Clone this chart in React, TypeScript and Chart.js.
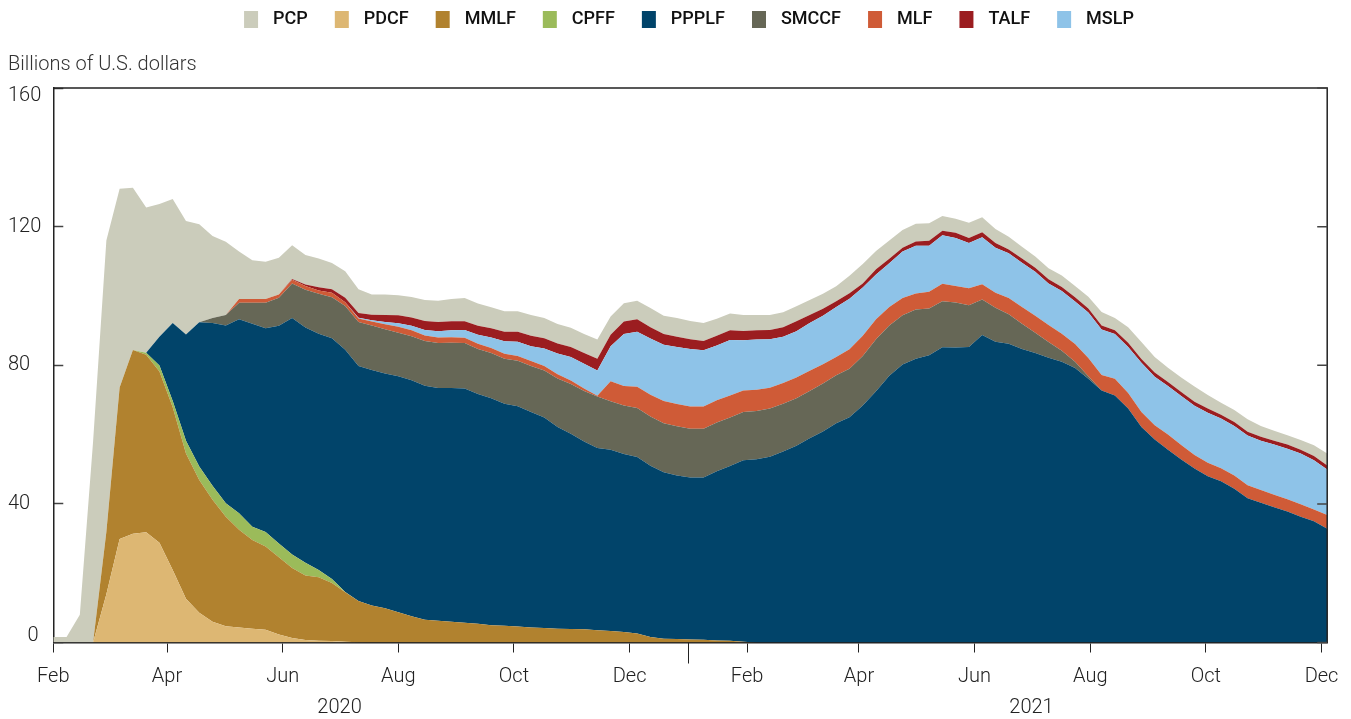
import React, { useEffect, useRef } from 'react';
import { Chart, registerables } from 'chart.js';

Chart.register(...registerables);

// Weekly observation dates
const weekDates = [
  '2020-02-01','2020-02-08','2020-02-15','2020-02-22','2020-02-29','2020-03-07','2020-03-14','2020-03-21','2020-03-28','2020-04-04',
  '2020-04-11','2020-04-18','2020-04-25','2020-05-02','2020-05-09','2020-05-16','2020-05-23','2020-05-30','2020-06-06','2020-06-13',
  '2020-06-20','2020-06-27','2020-07-04','2020-07-11','2020-07-18','2020-07-25','2020-08-01','2020-08-08','2020-08-15','2020-08-22',
  '2020-08-29','2020-09-05','2020-09-12','2020-09-19','2020-09-26','2020-10-03','2020-10-10','2020-10-17','2020-10-24','2020-10-31',
  '2020-11-07','2020-11-14','2020-11-21','2020-11-28','2020-12-05','2020-12-12','2020-12-19','2020-12-26','2021-01-02','2021-01-09',
  '2021-01-16','2021-01-23','2021-01-30','2021-02-06','2021-02-13','2021-02-20','2021-02-27','2021-03-06','2021-03-13','2021-03-20',
  '2021-03-27','2021-04-03','2021-04-10','2021-04-17','2021-04-24','2021-05-01','2021-05-08','2021-05-15','2021-05-22','2021-05-29',
  '2021-06-05','2021-06-12','2021-06-19','2021-06-26','2021-07-03','2021-07-10','2021-07-17','2021-07-24','2021-07-31','2021-08-07',
  '2021-08-14','2021-08-21','2021-08-28','2021-09-04','2021-09-11','2021-09-18','2021-09-25','2021-10-02','2021-10-09','2021-10-16',
  '2021-10-23','2021-10-30','2021-11-06','2021-11-13','2021-11-20','2021-11-27','2021-12-04'
];

// Billions of U.S. dollars, one value per week (10 per row)
const PDCF = [
  0, 0, 0, 0, 13.9, 29.9, 31.4, 31.8, 28.8, 20.9,
  12.6, 8.6, 6.0, 4.7, 4.3, 4.0, 3.7, 2.3, 1.3, 0.7,
  0.5, 0.4, 0.2, 0.1, 0, 0, 0, 0, 0, 0,
  0, 0, 0, 0, 0, 0, 0, 0, 0, 0,
  0, 0, 0, 0, 0, 0, 0, 0, 0, 0,
  0, 0, 0, 0, 0, 0, 0, 0, 0, 0,
  0, 0, 0, 0, 0, 0, 0, 0, 0, 0,
  0, 0, 0, 0, 0, 0, 0, 0, 0, 0,
  0, 0, 0, 0, 0, 0, 0, 0, 0, 0,
  0, 0, 0, 0, 0, 0, 0
];
const MMLF = [
  0, 0, 0, 0, 18.0, 43.7, 53.0, 51.2, 49.4, 47.0,
  41.9, 38.3, 35.2, 31.6, 28.2, 25.6, 24.0, 22.3, 20.2, 18.6,
  18.3, 16.8, 14.3, 11.9, 10.7, 9.9, 8.7, 7.6, 6.6, 6.3,
  6.0, 5.7, 5.4, 5.0, 4.8, 4.6, 4.3, 4.2, 4.0, 3.9,
  3.8, 3.5, 3.3, 3.0, 2.6, 1.6, 1.1, 1.0, 0.9, 0.8,
  0.6, 0.5, 0.2, 0, 0, 0, 0, 0, 0, 0,
  0, 0, 0, 0, 0, 0, 0, 0, 0, 0,
  0, 0, 0, 0, 0, 0, 0, 0, 0, 0,
  0, 0, 0, 0, 0, 0, 0, 0, 0, 0,
  0, 0, 0, 0, 0, 0, 0
];
const CPFF = [
  0, 0, 0, 0, 0, 0, 0, 0.6, 1.7, 1.8,
  3.7, 3.9, 4.0, 3.9, 4.8, 3.8, 4.2, 4.0, 3.9, 3.7,
  2.1, 1.1, 0.1, 0, 0, 0, 0, 0, 0, 0,
  0, 0, 0, 0, 0, 0, 0, 0, 0, 0,
  0, 0, 0, 0, 0, 0, 0, 0, 0, 0,
  0, 0, 0, 0, 0, 0, 0, 0, 0, 0,
  0, 0, 0, 0, 0, 0, 0, 0, 0, 0,
  0, 0, 0, 0, 0, 0, 0, 0, 0, 0,
  0, 0, 0, 0, 0, 0, 0, 0, 0, 0,
  0, 0, 0, 0, 0, 0, 0
];
const PPPLF = [
  0, 0, 0, 0, 0, 0, 0, 0, 8.3, 22.5,
  30.7, 41.6, 47.0, 51.3, 56.0, 58.6, 58.8, 62.8, 68.2, 67.9,
  68.2, 69.5, 69.9, 67.8, 67.9, 67.7, 68.1, 68.1, 67.5, 67.1,
  67.4, 67.6, 66.3, 65.5, 64.1, 63.6, 62.2, 60.7, 58.2, 56.3,
  54.2, 52.6, 52.3, 51.4, 50.9, 49.4, 48.0, 47.2, 46.7, 46.8,
  48.8, 50.4, 52.4, 52.9, 53.6, 55.1, 56.8, 58.9, 60.9, 63.3,
  65.0, 68.4, 72.5, 77.0, 80.2, 81.9, 82.9, 85.2, 85.1, 85.3,
  88.7, 86.8, 86.2, 84.7, 83.5, 82.2, 81.0, 79.2, 76.1, 72.7,
  71.3, 67.5, 62.2, 58.6, 55.6, 52.8, 50.2, 48.0, 46.5, 44.4,
  41.6, 40.3, 39.0, 37.8, 36.3, 35.0, 32.8
];
const SMCCF = [
  0, 0, 0, 0, 0, 0, 0, 0, 0, 0,
  0, 0, 1.4, 3.0, 4.7, 6.0, 7.3, 8.1, 10.0, 10.9,
  11.5, 11.8, 12.6, 12.7, 12.9, 12.8, 12.6, 12.7, 12.9, 13.0,
  13.1, 13.1, 13.0, 13.0, 13.0, 13.1, 13.3, 13.6, 14.0, 14.4,
  14.6, 14.9, 14.0, 14.0, 14.2, 14.2, 14.2, 14.2, 14.1, 14.1,
  14.1, 14.0, 13.9, 13.9, 13.9, 13.8, 13.7, 13.7, 13.8, 13.8,
  14.0, 14.3, 15.0, 14.5, 14.2, 14.2, 13.5, 13.3, 13.0, 12.0,
  10.3, 9.8, 8.5, 7.3, 5.9, 4.5, 3.2, 1.8, 0.7, 0,
  0, 0, 0, 0, 0, 0, 0, 0, 0, 0,
  0, 0, 0, 0, 0, 0, 0
];
const MLF = [
  0, 0, 0, 0, 0, 0, 0, 0, 0, 0,
  0, 0, 0, 0, 1.1, 1.1, 1.1, 0.9, 1.1, 1.1,
  1.0, 1.3, 1.1, 1.0, 1.1, 1.4, 1.7, 1.7, 1.6, 1.6,
  1.6, 1.5, 1.5, 1.5, 1.4, 1.4, 1.4, 1.3, 1.2, 1.0,
  0.7, 0.2, 5.8, 5.6, 6.1, 6.3, 6.4, 6.4, 6.4, 6.4,
  6.4, 6.4, 6.2, 6.1, 6.0, 6.0, 6.0, 5.8, 5.6, 5.3,
  5.6, 5.8, 5.8, 5.3, 5.0, 4.6, 4.8, 5.0, 4.8, 4.9,
  4.4, 4.3, 4.7, 4.8, 4.9, 4.9, 4.9, 5.1, 5.3, 4.5,
  4.8, 4.5, 4.3, 4.1, 4.4, 4.2, 3.9, 3.9, 3.8, 3.8,
  3.8, 3.7, 3.6, 3.5, 3.6, 3.4, 4.0
];
const MSLP = [
  0, 0, 0, 0, 0, 0, 0, 0, 0, 0,
  0, 0, 0, 0, 0, 0, 0, 0, 0, 0,
  0, 0, 0, 0.2, 0.4, 0.7, 1.0, 1.3, 1.6, 1.8,
  2.0, 2.3, 2.6, 3.0, 3.6, 4.1, 4.3, 5.0, 6.0, 6.8,
  7.1, 7.3, 10.1, 15.0, 15.9, 16.2, 16.2, 16.5, 16.6, 16.2,
  15.8, 16.0, 14.5, 14.5, 14.0, 13.3, 13.3, 13.8, 14.0, 14.4,
  14.6, 13.9, 12.9, 12.6, 13.4, 13.8, 13.3, 14.0, 13.8, 13.1,
  13.5, 13.0, 12.9, 12.8, 12.7, 12.0, 12.3, 12.3, 13.1, 13.1,
  12.9, 13.3, 14.2, 14.0, 14.0, 14.1, 14.2, 14.4, 14.3, 14.3,
  14.3, 14.2, 14.5, 14.6, 14.6, 14.2, 13.1
];
const TALF = [
  0, 0, 0, 0, 0, 0, 0, 0, 0, 0,
  0, 0, 0, 0, 0, 0, 0, 0, 0.2, 0.4,
  0.9, 1.0, 1.3, 1.4, 1.6, 2.0, 2.3, 2.4, 2.6, 2.7,
  2.6, 2.5, 2.6, 2.7, 2.8, 2.9, 3.0, 3.0, 2.9, 2.9,
  3.1, 3.4, 3.3, 3.6, 3.6, 3.3, 3.1, 2.9, 2.8, 2.7,
  2.8, 2.8, 2.7, 2.7, 2.7, 2.8, 2.9, 2.3, 2.0, 1.7,
  1.6, 1.2, 1.5, 1.3, 1.1, 1.2, 1.4, 1.3, 1.5, 1.4,
  1.5, 1.4, 1.1, 1.2, 1.1, 1.2, 1.2, 1.2, 1.2, 1.2,
  1.1, 1.2, 1.1, 1.2, 1.2, 1.2, 1.2, 1.2, 1.1, 1.1,
  1.1, 1.2, 1.1, 1.2, 1.1, 1.2, 1.2
];
const PCP = [
  1.6, 1.6, 8, 58, 84.1, 57.3, 46.8, 41.9, 38.3, 35.8,
  32.7, 28.3, 23.7, 21.1, 13.7, 11.2, 10.8, 10.6, 9.7, 8.5,
  8.3, 7.6, 7.6, 6.8, 5.8, 5.9, 5.8, 5.9, 6.0, 6.1,
  6.4, 6.7, 6.4, 6.0, 5.9, 5.9, 6.0, 5.8, 5.6, 5.5,
  5.5, 5.5, 5.3, 5.3, 5.3, 5.5, 5.3, 5.4, 5.3, 5.2,
  4.9, 4.8, 4.6, 4.4, 4.3, 4.3, 4.3, 4.3, 4.3, 4.3,
  5.0, 5.6, 5.3, 5.3, 5.1, 5.1, 5.1, 4.3, 4.1, 4.4,
  4.3, 4.0, 3.7, 3.4, 3.3, 3.2, 3.3, 3.3, 3.4, 3.9,
  3.5, 4.5, 4.9, 4.5, 4.1, 4.2, 4.4, 3.9, 3.5, 3.5,
  3.6, 3.1, 2.9, 2.7, 2.8, 3.1, 3.4
];

// Stacking order (bottom to top) and legend order
const stackOrder = ['PDCF', 'MMLF', 'CPFF', 'PPPLF', 'SMCCF', 'MLF', 'MSLP', 'TALF', 'PCP'];
const legendOrder = ['PCP', 'PDCF', 'MMLF', 'CPFF', 'PPPLF', 'SMCCF', 'MLF', 'TALF', 'MSLP'];
const seriesValues: Record<string, number[]> = { PDCF, MMLF, CPFF, PPPLF, SMCCF, MLF, MSLP, TALF, PCP };
const seriesColors: Record<string, string> = {
  PCP: '#cbccbb',
  PDCF: '#ddb773',
  MMLF: '#b1822f',
  CPFF: '#9bbb5a',
  PPPLF: '#01446a',
  SMCCF: '#666756',
  MLF: '#cf5b37',
  TALF: '#9b1d20',
  MSLP: '#8ec3e8',
};

const axisStart = '2020-02-01';
const axisEnd = '2021-12-04';
const xTickDates = ['2020-02-01','2020-04-01','2020-06-01','2020-08-01','2020-10-01','2020-12-01',
  '2021-02-01','2021-04-01','2021-06-01','2021-08-01','2021-10-01','2021-12-01'];
const xTickLabels = ['Feb','Apr','Jun','Aug','Oct','Dec','Feb','Apr','Jun','Aug','Oct','Dec'];
const yearSeparatorDate = '2021-01-01';
const yearLabelDates = ['2020-07-01', '2021-07-01'];
const yearLabels = ['2020', '2021'];
const yTicks = [0, 40, 80, 120, 160];
const yTitle = 'Billions of U.S. dollars';

function dayOf(s: string): number {
  const [y, m, d] = s.split('-').map(Number);
  return (Date.UTC(y, m - 1, d) - Date.UTC(2020, 1, 1)) / 86400000;
}

function legendIcon(color: string): HTMLCanvasElement {
  const c = document.createElement('canvas');
  c.width = 40;
  c.height = 17;
  const g = c.getContext('2d')!;
  g.fillStyle = color;
  g.fillRect(20, 0, 14, 17);
  return c;
}

const FONT = 'Roboto, "Noto Sans", Arial, sans-serif';

export default function App() {
  const canvasRef = useRef<HTMLCanvasElement | null>(null);

  useEffect(() => {
    if (!canvasRef.current) return;
    const xTickDays = xTickDates.map(dayOf);
    const yearDays = yearLabelDates.map(dayOf);

    const datasets = stackOrder.map((name, i) => ({
      label: name,
      data: weekDates.map((d, k) => ({ x: dayOf(d), y: seriesValues[name][k] })),
      backgroundColor: seriesColors[name],
      borderColor: seriesColors[name],
      borderWidth: 0,
      pointRadius: 0,
      pointHoverRadius: 0,
      pointStyle: legendIcon(seriesColors[name]) as any,
      fill: i === 0 ? 'origin' : '-1',
      tension: 0,
    }));

    const framePlugin = {
      id: 'frame',
      afterLayout(chart: any) {
        if (chart.legend) {
          chart.legend.left += 11;
          chart.legend.right += 11;
        }
      },
      afterDraw(chart: any) {
        const { ctx, chartArea, scales } = chart;
        const { left, right, top, bottom } = chartArea;
        ctx.save();
        ctx.strokeStyle = '#222';
        ctx.lineWidth = 1.5;
        ctx.beginPath();
        ctx.moveTo(left, top);
        ctx.lineTo(right, top);
        ctx.lineTo(right, bottom);
        ctx.stroke();
        ctx.strokeStyle = '#444';
        ctx.lineWidth = 1.5;
        ctx.beginPath();
        yTicks.forEach((v) => {
          const py = scales.y.getPixelForValue(v);
          ctx.moveTo(right, py);
          ctx.lineTo(right - 10, py);
        });
        ctx.stroke();
        const sx = Math.round(scales.x.getPixelForValue(dayOf(yearSeparatorDate))) + 0.5;
        ctx.strokeStyle = '#222';
        ctx.lineWidth = 1;
        ctx.beginPath();
        ctx.moveTo(sx, bottom);
        ctx.lineTo(sx, bottom + 21);
        ctx.stroke();
        // year labels under the month labels
        ctx.fillStyle = '#222';
        ctx.font = `300 20px ${FONT}`;
        ctx.textAlign = 'center';
        ctx.textBaseline = 'middle';
        yearDays.forEach((d, i) => {
          ctx.fillText(yearLabels[i], scales.x.getPixelForValue(d), bottom + 65);
        });
        ctx.restore();
      },
    };

    const chart = new Chart(canvasRef.current, {
      type: 'line',
      data: { datasets: datasets as any },
      plugins: [framePlugin],
      options: {
        responsive: false,
        devicePixelRatio: 1,
        animation: false,
        events: [],
        layout: { padding: { left: 8, right: 23, top: 3, bottom: 17.5 } },
        plugins: {
          tooltip: { enabled: false },
          legend: {
            position: 'top',
            align: 'center',
            labels: {
              usePointStyle: true,
              pointStyleWidth: 40,
              padding: 7,
              color: '#111',
              font: { family: FONT, size: 18, weight: 500 as any },
              sort: (a: any, b: any) => legendOrder.indexOf(a.text) - legendOrder.indexOf(b.text),
            },
          },
          title: {
            display: true,
            text: yTitle,
            align: 'start',
            color: '#333',
            font: { family: FONT, size: 20, weight: 300 as any },
            padding: { top: 15, bottom: 11 },
            weight: 500,
          } as any,
        },
        scales: {
          x: {
            type: 'linear',
            min: dayOf(axisStart),
            max: dayOf(axisEnd),
            afterBuildTicks: (scale: any) => {
              scale.ticks = xTickDays.map((v) => ({ value: v }));
            },
            ticks: {
              autoSkip: false,
              maxRotation: 0,
              padding: 12.5,
              color: '#222',
              font: { family: FONT, size: 20, weight: 300 as any },
              callback: (v: any) => {
                const i = xTickDays.indexOf(Number(v));
                return i >= 0 ? xTickLabels[i] : '';
              },
            },
            grid: { drawOnChartArea: false, drawTicks: true, tickLength: 10, tickColor: '#222', tickWidth: 1 },
            border: { display: true, color: '#222', width: 1.5 },
            z: 1,
          },
          y: {
            stacked: true,
            min: 0,
            max: 160,
            afterBuildTicks: (scale: any) => {
              scale.ticks = yTicks.map((v) => ({ value: v }));
            },
            ticks: {
              crossAlign: 'far',
              padding: 11,
              color: '#222',
              font: (c: any) => {
                const v = c && c.tick ? c.tick.value : null;
                return {
                  family: FONT,
                  size: 20,
                  weight: 300,
                  lineHeight: v === 160 ? '16px' : v === 0 ? '14px' : 1.2,
                } as any;
              },
              callback: (v: any) => {
                const n = Number(v);
                if (n === 160) return ['', '160'];
                if (n === 0) return ['    0', ''];
                return String(n);
              },
            },
            grid: { drawOnChartArea: false, drawTicks: true, tickLength: -10, tickColor: '#444', tickWidth: 1.5 },
            border: { display: true, color: '#222', width: 1.5 },
            z: 1,
          },
        } as any,
      },
    });

    return () => chart.destroy();
  }, []);

  return (
    <div style={{ position: 'fixed', left: 0, top: 0, width: 1351, height: 719, background: '#fff' }}>
      <canvas ref={canvasRef} width={1351} height={719} style={{ display: 'block' }} />
    </div>
  );
}
